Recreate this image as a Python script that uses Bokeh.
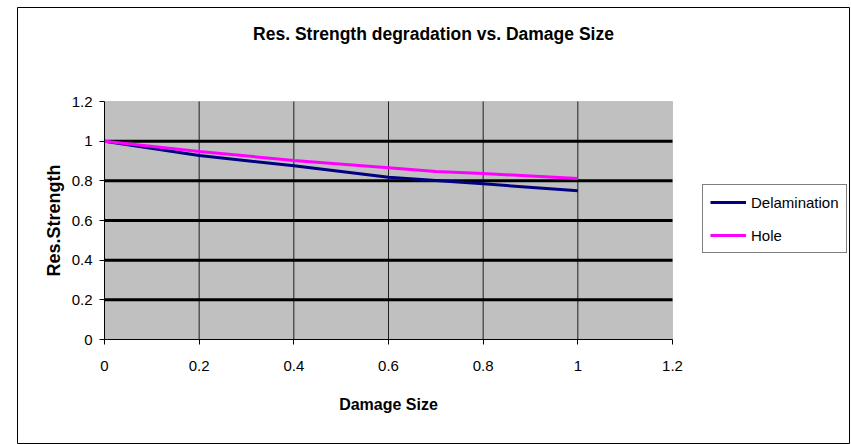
from bokeh.plotting import figure
from bokeh.models import (Range1d, FixedTicker, Legend, LegendItem,
                          BoxAnnotation, LinearAxis, ColumnDataSource)
from bokeh.core.properties import value
from bokeh.embed import file_html
from bokeh.resources import INLINE

title_text = "Res. Strength degradation vs. Damage Size"
x_label = "Damage Size"
y_label = "Res.Strength"
damage_size = [0, 0.2, 0.4, 0.6, 0.7, 0.8, 1.0]
delamination = [1.0, 0.928, 0.876, 0.818, 0.802, 0.785, 0.750]
hole = [1.0, 0.948, 0.903, 0.866, 0.847, 0.837, 0.812]
x_ticks = [0, 0.2, 0.4, 0.6, 0.8, 1.0, 1.2]
y_ticks = [0, 0.2, 0.4, 0.6, 0.8, 1.0, 1.2]
series_names = ["Delamination", "Hole"]
series_colors = ["#000080", "#FF00FF"]

FONT = "Liberation Sans"
W, H = 851, 444

# pixel layout (chart box and plot area)
BOX_L, BOX_R, BOX_T, BOX_B = 17, 849, 7, 444
PA_L, PA_R, PA_T, PA_B = 104, 672, 101, 339
X0, X1 = x_ticks[0], x_ticks[-1]
Y0, Y1 = y_ticks[0], y_ticks[-1]
sx = (PA_R - PA_L) / (X1 - X0)
sy = (PA_B - PA_T) / (Y1 - Y0)
xr = Range1d(X0 - (PA_L - BOX_L) / sx, X1 + (BOX_R - PA_R) / sx)
yr = Range1d(Y0 - (BOX_B - PA_B) / sy, Y1 + (PA_T - BOX_T) / sy)

p = figure(width=W, height=H, output_backend="svg", toolbar_location=None,
           x_range=xr, y_range=yr, x_axis_location=None, y_axis_location=None,
           min_border_left=BOX_L, min_border_right=W - BOX_R,
           min_border_top=BOX_T, min_border_bottom=H - BOX_B)
p.background_fill_color = "white"
p.border_fill_color = "white"
p.outline_line_color = "black"
p.outline_line_width = 1
p.xgrid.visible = False
p.ygrid.visible = False

# gray plot area
p.add_layout(BoxAnnotation(left=X0, right=X1, bottom=Y0, top=Y1,
                           fill_color="#C0C0C0", fill_alpha=1,
                           line_color="#808080", line_width=1, level="image"))

# grid lines
inner_x = x_ticks[1:-1]
inner_y = y_ticks[1:-1]
p.segment(x0=inner_x, y0=[Y0] * len(inner_x), x1=inner_x, y1=[Y1] * len(inner_x),
          line_color="#202020", line_width=1)
p.segment(x0=[X0] * len(inner_y), y0=inner_y, x1=[X1] * len(inner_y), y1=inner_y,
          line_color="black", line_width=3)

xaxis = LinearAxis(fixed_location=Y0, bounds=(X0, X1))
yaxis = LinearAxis(fixed_location=X0, bounds=(Y0, Y1))
p.add_layout(xaxis, "below")
p.add_layout(yaxis, "left")
for ax, ticks in ((xaxis, x_ticks), (yaxis, y_ticks)):
    ax.ticker = FixedTicker(ticks=ticks)
    ax.axis_line_color = "black"
    ax.major_tick_line_color = "black"
    ax.major_tick_in = 0
    ax.major_tick_out = 5
    ax.minor_tick_line_color = None
    ax.major_label_text_font = FONT
    ax.major_label_text_font_size = "15px"
    ax.major_label_text_color = "black"
    ax.axis_label_text_font = FONT
    ax.axis_label_text_font_style = "bold"
    ax.axis_label_text_color = "black"
xaxis.axis_label_text_font_size = "16px"
yaxis.axis_label_text_font_size = "18px"
xaxis.major_label_overrides = {0: "0", 1.0: "1"}
yaxis.major_label_overrides = {0: "0", 1.0: "1"}
xaxis.axis_label = x_label
yaxis.axis_label = y_label
xaxis.major_label_standoff = 16
xaxis.axis_label_standoff = 22
yaxis.major_label_standoff = 7
yaxis.axis_label_standoff = 5

r1 = p.line(damage_size, delamination, line_color=series_colors[0], line_width=3)
r2 = p.line(damage_size, hole, line_color=series_colors[1], line_width=3)

legend = Legend(items=[LegendItem(label=series_names[0], renderers=[r1]),
                       LegendItem(label=series_names[1], renderers=[r2])],
                location=(702 - BOX_L, BOX_B - 253), orientation="vertical",
                border_line_color="black", border_line_width=1,
                background_fill_color="white", background_fill_alpha=1,
                label_text_font=FONT, label_text_font_size="15px",
                label_text_color="black", glyph_width=36, glyph_height=20,
                label_standoff=5, padding=7, spacing=13, margin=0)
p.add_layout(legend)

# chart title, centred over the chart box
title_src = ColumnDataSource(dict(x=[(xr.start + xr.end) / 2],
                                  y=[Y1 + (PA_T - 33) / sy],
                                  t=[title_text]))
p.text(x="x", y="y", text="t", source=title_src, text_font=value(FONT),
       text_font_style="bold", text_font_size="17.5px", text_align="center",
       text_baseline="middle", text_color="black")

open("out.html", "w").write(file_html(p, INLINE))
